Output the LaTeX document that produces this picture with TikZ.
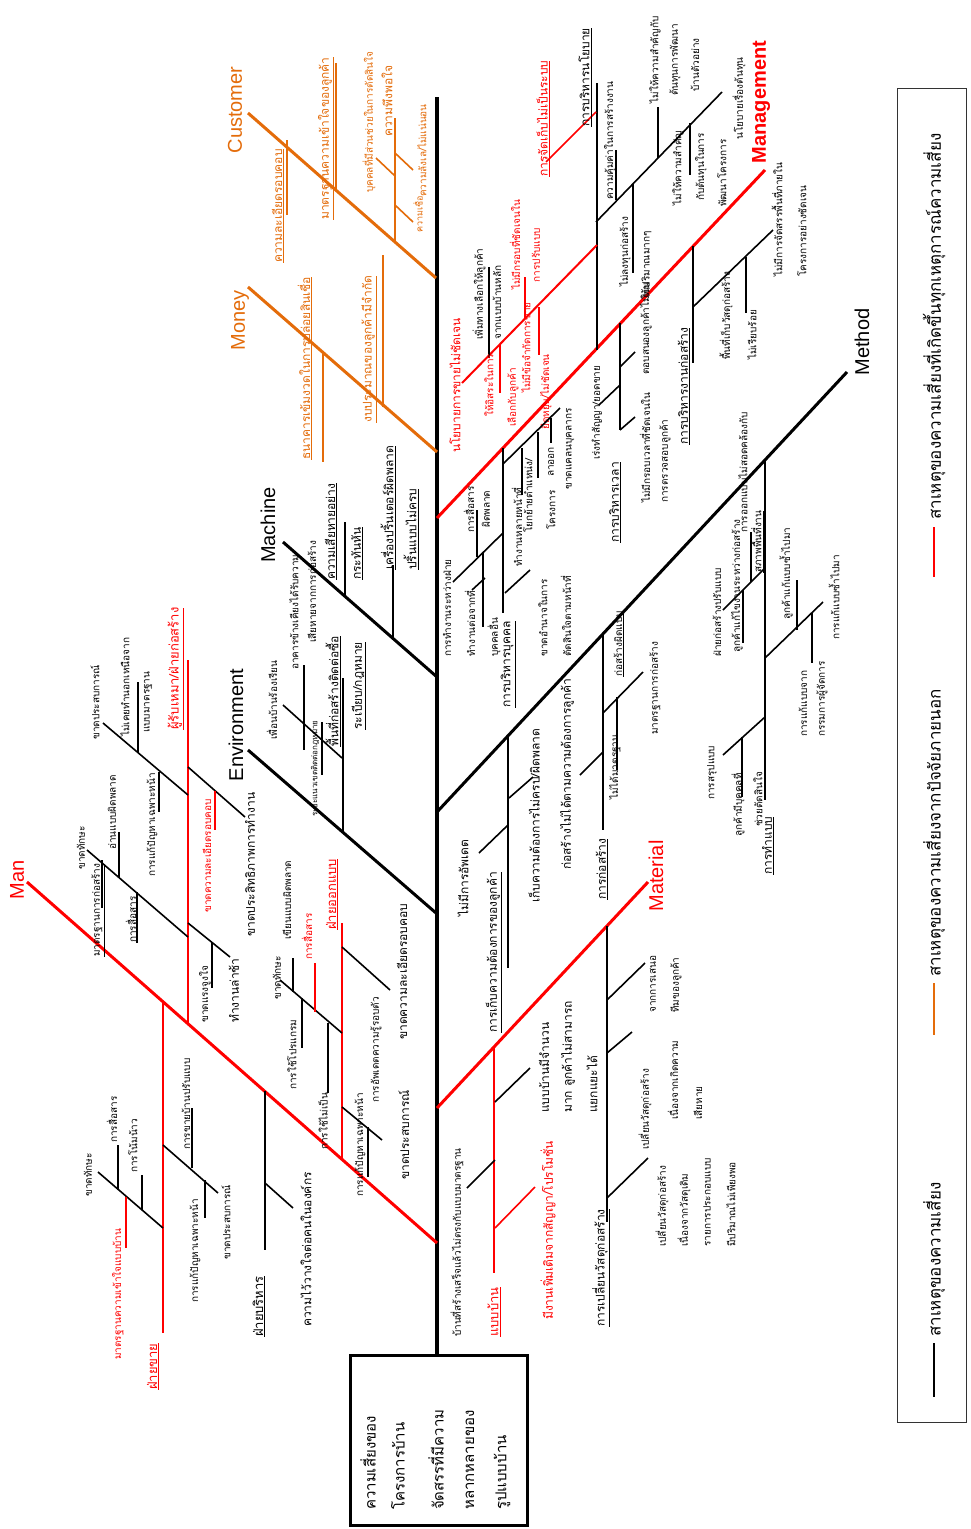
\documentclass[tikz,border=0pt]{standalone}
\usepackage{fontspec}
\setmainfont{Liberation Sans}
\newfontfamily\thai[Script=Thai]{Loma}
\definecolor{brO}{RGB}{228,108,10}
\definecolor{brR}{RGB}{255,0,0}
\tikzset{
  spine/.style={line width=3.5pt,black},
  mainK/.style={line width=3pt,black},
  mainR/.style={line width=3pt,brR},
  mainO/.style={line width=3pt,brO},
  subK/.style={line width=2pt,black},
  subR/.style={line width=2pt,brR},
  subO/.style={line width=2pt,brO},
  tikK/.style={line width=1.6pt,black},
  tikR/.style={line width=1.6pt,brR},
  tikO/.style={line width=1.6pt,brO},
  lb/.style={rotate=90,inner sep=0pt,anchor=west,font=\thai\fontsize{12}{14}\selectfont},
  ls/.style={lb,font=\thai\fontsize{10}{12}\selectfont},
  ll/.style={lb,font=\thai\fontsize{13}{15}\selectfont},
  cat/.style={rotate=90,inner sep=0pt,font=\fontsize{20}{24}\selectfont},
  boxtxt/.style={lb,font=\thai\fontsize{15}{18}\selectfont},
  legtxt/.style={lb,font=\thai\fontsize{17}{20}\selectfont},
}
\begin{document}
\begin{tikzpicture}[x=1pt,y=-1pt]
\useasboundingbox (0,0) rectangle (971,1529);
\fill[white] (0,0) rectangle (971,1529);

% ---------- head and spine ----------
\node[draw,line width=3pt,minimum width=177pt,minimum height=170pt,inner sep=0pt] (head) at (438.5,1440) {};
\node[boxtxt] (h1) at (368,1510) {ความเสี่ยงของ};
\node[boxtxt] (h2) at (398,1510) {โครงการบ้าน};
\node[boxtxt] (h3) at (436,1510) {จัดสรรที่มีความ};
\node[boxtxt] (h4) at (470,1510) {หลากหลายของ};
\node[boxtxt] (h5) at (502,1510) {รูปแบบบ้าน};
\coordinate (sp0) at (437,97);
\draw[spine] (sp0) -- (sp0 |- head.north);

% ---------- legend ----------
\draw[line width=1pt,black!80] (897,88) rectangle (966,1422);
\coordinate (lg1a) at (934,527); \coordinate (lg1b) at (934,577);
\draw[line width=1.5pt,brR] (lg1a) -- (lg1b);
\node[legtxt] (lg1) at (934,520) {สาเหตุของความเสี่ยงที่เกิดขึ้นทุกเหตุการณ์ความเสี่ยง};
\coordinate (lg2a) at (934,983); \coordinate (lg2b) at (934,1035);
\draw[line width=1.5pt,brO] (lg2a) -- (lg2b);
\node[legtxt] (lg2) at (934,977) {สาเหตุของความเสี่ยงจากปัจจัยภายนอก};
\coordinate (lg3a) at (934,1343); \coordinate (lg3b) at (934,1397);
\draw[line width=1.5pt,black] (lg3a) -- (lg3b);
\node[legtxt] (lg3) at (934,1337) {สาเหตุของความเสี่ยง};

% ---------- main branches ----------
\coordinate (cuA) at (248,113); \coordinate (cuB) at (436,278);
\coordinate (moA) at (248,287); \coordinate (moB) at (437,452);
\coordinate (maA) at (283,542); \coordinate (maB) at (437,677);
\coordinate (enA) at (248,750); \coordinate (enB) at (436,913);
\coordinate (mnA) at (27,882);  \coordinate (mnB) at (437,1243);
\coordinate (mgA) at (437,518); \coordinate (mgB) at (765,170);
\coordinate (meA) at (437,812); \coordinate (meB) at (847,372);
\coordinate (mtA) at (437,1108); \coordinate (mtB) at (648,882);
\draw[mainO] (cuA) -- (cuB);
\draw[mainO] (moA) -- (moB);
\draw[mainK] (maA) -- (maB);
\draw[mainK] (enA) -- (enB);
\draw[mainR] (mnA) -- (mnB);
\draw[mainR] (mgA) -- (mgB);
\draw[mainK] (meA) -- (meB);
\draw[mainR] (mtA) -- (mtB);

\node[cat,brO] (tCu) at (235,110) {Customer};
\node[cat,brO] (tMo) at (240,320) {Money};
\node[cat] (tMa) at (268,525) {Machine};
\node[cat] (tEn) at (236,725) {Environment};
\node[cat,brR] (tMn) at (17,880) {Man};
\node[cat,brR,font=\bfseries\fontsize{20}{24}\selectfont] (tMg) at (761,102) {Management};
\node[cat] (tMe) at (862,342) {Method};
\node[cat,brR] (tMt) at (656,876) {Material};

% ---------- Customer ----------
\coordinate (c1a) at (287,140); \coordinate (c1b) at (287,215); \draw[subO] (c1a) -- (c1b);
\coordinate (c2a) at (336,63);  \coordinate (c2b) at (336,190); \draw[subO] (c2a) -- (c2b);
\coordinate (c3a) at (395,118); \coordinate (c3b) at (395,242); \draw[subO] (c3a) -- (c3b);
\coordinate (c4a) at (376,158); \coordinate (c4b) at (395,176); \draw[tikO] (c4a) -- (c4b);
\coordinate (c5a) at (395,153); \coordinate (c5b) at (413,170); \draw[tikO] (c5a) -- (c5b);
\coordinate (c6a) at (395,205); \coordinate (c6b) at (413,222); \draw[tikO] (c6a) -- (c6b);
\node[lb,brO] (cl1) at (278,263) {\underline{ความละเอียดรอบคอบ}};
\node[lb,brO] (cl2) at (326,220) {\underline{มาตรฐานความเข้าใจของลูกค้า}};
\node[lb,brO] (cl3) at (387,137) {ความพึงพอใจ};
\node[ls,brO] (cl4) at (369,193) {บุคคลที่มีส่วนช่วยในการตัดสินใจ};
\node[ls,brO] (cl5) at (422,197) {ความลังเล/ไม่แน่นอน};
\node[ls,brO,font=\thai\fontsize{9}{11}\selectfont] (cl6) at (418,233) {ความเชื่อ};

% ---------- Money ----------
\coordinate (m1a) at (323,352); \coordinate (m1b) at (323,462); \draw[subO] (m1a) -- (m1b);
\coordinate (m2a) at (383,255); \coordinate (m2b) at (383,407); \draw[subO] (m2a) -- (m2b);
\node[lb,brO] (ml1) at (305,460) {\underline{ธนาคารเข้มงวดในการปล่อยสินเชื่อ}};
\node[lb,brO] (ml2) at (369,423) {\underline{งบประมาณของลูกค้ามีจำกัด}};

% ---------- Machine ----------
\coordinate (h1a) at (345,522); \coordinate (h1b) at (345,596); \draw[subK] (h1a) -- (h1b);
\coordinate (h2a) at (393,565); \coordinate (h2b) at (393,638); \draw[subK] (h2a) -- (h2b);
\node[lb] (hl1) at (331,580) {\underline{ความเสียหายอย่าง}};
\node[lb] (hl2) at (357,580) {\underline{กระทันหัน}};
\node[lb] (hl3) at (388,570) {\underline{เครื่องปริ้นเตอร์ผิดพลาด}};
\node[lb] (hl4) at (411,570) {\underline{ปริ้นแบบไม่ครบ}};

% ---------- Environment ----------
\coordinate (e1a) at (343,678); \coordinate (e1b) at (343,832); \draw[subK] (e1a) -- (e1b);
\coordinate (e2a) at (283,705); \coordinate (e2b) at (342,758); \draw[tikK] (e2a) -- (e2b);
\coordinate (e3a) at (304,665); \coordinate (e3b) at (304,750); \draw[tikK] (e3a) -- (e3b);
\coordinate (e4a) at (322,722); \coordinate (e4b) at (322,775); \draw[tikK] (e4a) -- (e4b);
\node[lb] (el1) at (333,747) {\underline{พื้นที่ก่อสร้างติดต่อซื้อ}};
\node[lb] (el2) at (359,730) {\underline{ระเบียบ/กฎหมาย}};
\node[ls] (el3) at (272,740) {เพื่อนบ้านร้องเรียน};
\node[ls] (el4) at (294,670) {อาคารข้างเคียงได้รับความ};
\node[ls] (el5) at (312,643) {เสียหายจากการก่อสร้าง};
\node[ls,font=\thai\fontsize{8}{9}\selectfont] (el6) at (315,817) {ระยะแนวเขตติดต่อกฎหมาย};

% ---------- Man ----------
\coordinate (r1a) at (188,660); \coordinate (r1b) at (188,1024); \draw[subR] (r1a) -- (r1b);
\coordinate (r2a) at (103,723); \coordinate (r2b) at (188,795); \draw[tikK] (r2a) -- (r2b);
\coordinate (r3a) at (138,682); \coordinate (r3b) at (138,753); \draw[tikK] (r3a) -- (r3b);
\coordinate (r4a) at (159,772); \coordinate (r4b) at (159,812); \draw[tikK] (r4a) -- (r4b);
\coordinate (r5a) at (188,767); \coordinate (r5b) at (245,817); \draw[tikK] (r5a) -- (r5b);
\coordinate (r6a) at (215,791); \coordinate (r6b) at (215,830); \draw[tikR] (r6a) -- (r6b);
\coordinate (r7a) at (188,923); \coordinate (r7b) at (230,957); \draw[tikK] (r7a) -- (r7b);
\coordinate (r8a) at (212,942); \coordinate (r8b) at (212,988); \draw[tikK] (r8a) -- (r8b);
\coordinate (r9a) at (87,850);  \coordinate (r9b) at (188,937); \draw[tikK] (r9a) -- (r9b);
\coordinate (r10a) at (102,860); \coordinate (r10b) at (102,908); \draw[tikK] (r10a) -- (r10b);
\coordinate (r11a) at (119,832); \coordinate (r11b) at (119,877); \draw[tikK] (r11a) -- (r11b);
\coordinate (r12a) at (137,892); \coordinate (r12b) at (137,943); \draw[tikK] (r12a) -- (r12b);
\node[ll,brR] (rl1) at (176,730) {\underline{ผู้รับเหมา/ฝ่ายก่อสร้าง}};
\node[ls] (rl2) at (95,740) {ขาดประสบการณ์};
\node[ls] (rl3) at (125,737) {ไม่เคยทำนอกเหนือจาก};
\node[ls] (rl4) at (148,733) {แบบมาตรฐาน};
\node[ls] (rl5) at (152,877) {การแก้ปัญหาเฉพาะหน้า};
\node[ls,brR] (rl6) at (207,913) {ขาดความละเอียดรอบคอบ};
\node[lb] (rl7) at (250,937) {ขาดประสิทธิภาพการทำงาน};
\node[ls] (rl8) at (205,1023) {ขาดแรงจูงใจ};
\node[lb] (rl9) at (234,1023) {ทำงานล่าช้า};
\node[ls] (rl10) at (81,870) {ขาดทักษะ};
\node[ls] (rl11) at (98,957) {\underline{มาตรฐานการก่อสร้าง}};
\node[ls] (rl12) at (112,850) {อ่านแบบผิดพลาด};
\node[ls] (rl13) at (132,943) {\underline{การสื่อสาร}};

\coordinate (b1a) at (265,1091); \coordinate (b1b) at (265,1250); \draw[subK] (b1a) -- (b1b);
\coordinate (b2a) at (265,1183); \coordinate (b2b) at (293,1208); \draw[tikK] (b2a) -- (b2b);
\node[ll] (bl1) at (259,1337) {\underline{ฝ่ายบริหาร}};
\node[lb] (bl2) at (306,1327) {ความไว้วางใจต่อคนในองค์กร};

\coordinate (s1a) at (163,1003); \coordinate (s1b) at (163,1333); \draw[subR] (s1a) -- (s1b);
\coordinate (s2a) at (98,1172);  \coordinate (s2b) at (163,1228); \draw[tikK] (s2a) -- (s2b);
\coordinate (s3a) at (118,1145); \coordinate (s3b) at (118,1190); \draw[tikK] (s3a) -- (s3b);
\coordinate (s4a) at (142,1175); \coordinate (s4b) at (142,1210); \draw[tikK] (s4a) -- (s4b);
\coordinate (s5a) at (126,1197); \coordinate (s5b) at (126,1248); \draw[tikR] (s5a) -- (s5b);
\coordinate (s6a) at (163,1145); \coordinate (s6b) at (218,1193); \draw[tikK] (s6a) -- (s6b);
\coordinate (s7a) at (192,1108); \coordinate (s7b) at (192,1168); \draw[tikK] (s7a) -- (s7b);
\coordinate (s8a) at (205,1180); \coordinate (s8b) at (205,1218); \draw[tikK] (s8a) -- (s8b);
\node[ll,brR] (sl1) at (153,1390) {\underline{ฝ่ายขาย}};
\node[ls] (sl2) at (88,1197) {ขาดทักษะ};
\node[ls] (sl3) at (112,1143) {การสื่อสาร};
\node[ls] (sl4) at (133,1173) {การโน้มน้าว};
\node[ls,brR] (sl5) at (118,1360) {มาตรฐานความเข้าใจแบบบ้าน};
\node[ls] (sl6) at (226,1260) {ขาดประสบการณ์};
\node[ls] (sl7) at (186,1150) {การขายบ้านปรับแบบ};
\node[ls] (sl8) at (195,1303) {การแก้ปัญหาเฉพาะหน้า};

\coordinate (d1a) at (342,923);  \coordinate (d1b) at (342,1159); \draw[subR] (d1a) -- (d1b);
\coordinate (d2a) at (342,947);  \coordinate (d2b) at (390,990);  \draw[tikK] (d2a) -- (d2b);
\coordinate (d3a) at (280,980);  \coordinate (d3b) at (342,1033); \draw[tikK] (d3a) -- (d3b);
\coordinate (d4a) at (293,958);  \coordinate (d4b) at (293,992);  \draw[tikK] (d4a) -- (d4b);
\coordinate (d5a) at (315,963);  \coordinate (d5b) at (315,1012); \draw[tikR] (d5a) -- (d5b);
\coordinate (d6a) at (302,998);  \coordinate (d6b) at (302,1048); \draw[tikK] (d6a) -- (d6b);
\coordinate (d7a) at (328,1023); \coordinate (d7b) at (328,1093); \draw[tikK] (d7a) -- (d7b);
\coordinate (d8a) at (342,1107); \coordinate (d8b) at (382,1140); \draw[tikK] (d8a) -- (d8b);
\coordinate (d9a) at (368,1127); \coordinate (d9b) at (368,1177); \draw[tikK] (d9a) -- (d9b);
\node[ll,brR] (dl1) at (332,930) {\underline{ฝ่ายออกแบบ}};
\node[lb] (dl2) at (402,1040) {ขาดความละเอียดรอบคอบ};
\node[ls] (dl3) at (277,1000) {ขาดทักษะ};
\node[ls] (dl4) at (287,940) {เขียนแบบผิดพลาด};
\node[ls,brR] (dl5) at (307,960) {การสื่อสาร};
\node[ls] (dl6) at (292,1090) {การใช้โปรแกรม};
\node[ls] (dl7) at (323,1150) {การใช้ไม่เป็น};
\node[ls] (dl8) at (376,1103) {การอัพเดตความรู้รอบตัว};
\node[ls] (dl9) at (360,1197) {การแก้ปัญหาเฉพาะหน้า};
\node[lb] (dl10) at (404,1180) {ขาดประสบการณ์};

% ---------- Management ----------
\coordinate (g1a) at (597,83);  \coordinate (g1b) at (597,350); \draw[subK] (g1a) -- (g1b);
\coordinate (g2a) at (546,162); \coordinate (g2b) at (596,112); \draw[tikR] (g2a) -- (g2b);
\coordinate (g3a) at (596,222); \coordinate (g3b) at (722,92);  \draw[tikK] (g3a) -- (g3b);
\coordinate (g4a) at (616,150); \coordinate (g4b) at (616,200); \draw[tikK] (g4a) -- (g4b);
\coordinate (g5a) at (633,184); \coordinate (g5b) at (633,273); \draw[tikK] (g5a) -- (g5b);
\coordinate (g6a) at (658,107); \coordinate (g6b) at (658,158); \draw[tikK] (g6a) -- (g6b);
\coordinate (g7a) at (690,123); \coordinate (g7b) at (690,175); \draw[tikK] (g7a) -- (g7b);
\coordinate (g8a) at (462,383); \coordinate (g8b) at (597,245); \draw[subR] (g8a) -- (g8b);
\coordinate (g9a) at (489,267); \coordinate (g9b) at (489,358); \draw[tikK] (g9a) -- (g9b);
\coordinate (g10a) at (525,277); \coordinate (g10b) at (525,318); \draw[tikR] (g10a) -- (g10b);
\coordinate (g11a) at (500,345); \coordinate (g11b) at (500,393); \draw[tikR] (g11a) -- (g11b);
\coordinate (g12a) at (539,307); \coordinate (g12b) at (539,355); \draw[tikR] (g12a) -- (g12b);
\node[lb] (gl1) at (585,127) {\underline{การบริหารนโยบาย}};
\node[lb,brR] (gl2) at (543,177) {\underline{การจัดเก็บไม่เป็นระบบ}};
\node[ls] (gl3) at (739,140) {นโยบายเรื่องต้นทุน};
\node[ls] (gl4) at (610,200) {ความคุ้มค่าในการสร้างงาน};
\node[ls] (gl5) at (625,287) {ไม่ลงทุนก่อสร้าง};
\node[ls] (gl6) at (646,300) {ในปริมาณมากๆ};
\node[ls,anchor=center] (gl7) at (655,60) {ไม่ให้ความสำคัญกับ};
\node[ls,anchor=center] (gl8) at (675,60) {ต้นทุนการพัฒนา};
\node[ls,anchor=center] (gl9) at (695,65) {บ้านตัวอย่าง};
\node[ls,anchor=center] (gl10) at (678,168) {ไม่ให้ความสำคัญ};
\node[ls,anchor=center] (gl11) at (701,167) {กับต้นทุนในการ};
\node[ls,anchor=center] (gl12) at (722,173) {พัฒนาโครงการ};
\node[lb,brR] (gl13) at (455,453) {นโยบายการขายไม่ชัดเจน};
\node[ls] (gl14) at (479,340) {เพิ่มทางเลือกให้ลูกค้า};
\node[ls] (gl15) at (497,340) {จากแบบบ้านหลัก};
\node[ls,brR,anchor=center] (gl16) at (515,245) {ไม่มีกรอบที่ชัดเจนใน};
\node[ls,brR,anchor=center] (gl17) at (536,255) {การปรับแบบ};
\node[ls,brR] (gl18) at (489,417) {ให้อิสระในการ};
\node[ls,brR] (gl19) at (513,427) {เลือกกับลูกค้า};
\node[ls,brR] (gl20) at (526,393) {ไม่มีข้อจำกัดการขาย};
\node[ls,brR] (gl21) at (546,430) {ยืดหยุ่น/ไม่ชัดเจน};

\coordinate (k1a) at (693,246); \coordinate (k1b) at (693,363); \draw[subK] (k1a) -- (k1b);
\coordinate (k2a) at (693,307); \coordinate (k2b) at (773,230); \draw[tikK] (k2a) -- (k2b);
\coordinate (k3a) at (746,257); \coordinate (k3b) at (746,313); \draw[tikK] (k3a) -- (k3b);
\node[lb] (kl1) at (684,445) {\underline{การบริหารงานก่อสร้าง}};
\node[ls] (kl2) at (777,277) {ไม่มีการจัดสรรพื้นที่ภายใน};
\node[ls] (kl3) at (802,277) {โครงการอย่างชัดเจน};
\node[ls] (kl4) at (726,360) {พื้นที่เก็บวัสดุก่อสร้าง};
\node[ls] (kl5) at (752,360) {ไม่เรียบร้อย};

\coordinate (v1a) at (620,323); \coordinate (v1b) at (620,430); \draw[subK] (v1a) -- (v1b);
\coordinate (v2a) at (620,367); \coordinate (v2b) at (635,352); \draw[tikK] (v2a) -- (v2b);
\coordinate (v3a) at (620,430); \coordinate (v3b) at (635,417); \draw[tikK] (v3a) -- (v3b);
\coordinate (v4a) at (599,405); \coordinate (v4b) at (620,385); \draw[tikK] (v4a) -- (v4b);
\node[lb] (vl1) at (615,543) {\underline{การบริหารเวลา}};
\node[ls] (vl2) at (646,375) {ตอบสนองลูกค้าไม่ทัน};
\node[ls] (vl3) at (645,503) {ไม่มีกรอบเวลาที่ชัดเจนใน};
\node[ls] (vl4) at (665,503) {การตรวจสอบลูกค้า};
\node[ls] (vl5) at (597,460) {เร่งทำสัญญา/ยอดขาย};

\coordinate (p1a) at (503,448); \coordinate (p1b) at (503,613); \draw[subK] (p1a) -- (p1b);
\coordinate (p2a) at (503,464); \coordinate (p2b) at (560,408); \draw[tikK] (p2a) -- (p2b);
\coordinate (p3a) at (522,448); \coordinate (p3b) at (522,495); \draw[tikK] (p3a) -- (p3b);
\coordinate (p4a) at (538,432); \coordinate (p4b) at (538,478); \draw[tikK] (p4a) -- (p4b);
\coordinate (p5a) at (551,418); \coordinate (p5b) at (551,443); \draw[tikK] (p5a) -- (p5b);
\coordinate (p6a) at (505,593); \coordinate (p6b) at (530,570); \draw[tikK] (p6a) -- (p6b);
\coordinate (p7a) at (453,582); \coordinate (p7b) at (503,533); \draw[tikK] (p7a) -- (p7b);
\coordinate (p8a) at (477,510); \coordinate (p8b) at (477,557); \draw[tikK] (p8a) -- (p8b);
\coordinate (p9a) at (483,553); \coordinate (p9b) at (483,627); \draw[tikK] (p9a) -- (p9b);
\coordinate (p10a) at (472,590); \coordinate (p10b) at (485,578); \draw[tikK] (p10a) -- (p10b);
\node[lb] (pl1) at (508,708) {\underline{การบริหารบุคคล}};
\node[ls] (pl2) at (570,490) {ขาดแคลนบุคลากร};
\node[ls] (pl3) at (517,567) {ทำงานหลายหน้าที่};
\node[ls] (pl4) at (528,533) {โยกย้ายตำแหน่ง/};
\node[ls] (pl5) at (551,530) {โครงการ};
\node[ls] (pl6) at (551,477) {ลาออก};
\node[ls] (pl7) at (543,657) {ขาดอำนาจในการ};
\node[ls] (pl8) at (566,657) {ตัดสินใจตามหน้าที่};
\node[ls] (pl9) at (447,657) {การทำงานระหว่างฝ่าย};
\node[ls] (pl10) at (469,533) {การสื่อสาร};
\node[ls] (pl11) at (486,528) {ผิดพลาด};
\node[ls] (pl12) at (470,657) {ทำงานต่อจากที่};
\node[ls] (pl13) at (494,657) {บุคคลอื่น};

% ---------- Method ----------
\coordinate (w1a) at (765,460); \coordinate (w1b) at (765,800); \draw[subK] (w1a) -- (w1b);
\coordinate (w2a) at (723,610); \coordinate (w2b) at (765,568); \draw[tikK] (w2a) -- (w2b);
\coordinate (w3a) at (743,590); \coordinate (w3b) at (743,643); \draw[tikK] (w3a) -- (w3b);
\coordinate (w4a) at (751,532); \coordinate (w4b) at (751,582); \draw[tikK] (w4a) -- (w4b);
\coordinate (w5a) at (765,658); \coordinate (w5b) at (823,602); \draw[tikK] (w5a) -- (w5b);
\coordinate (w6a) at (797,580); \coordinate (w6b) at (797,630); \draw[tikK] (w6a) -- (w6b);
\coordinate (w7a) at (812,613); \coordinate (w7b) at (812,663); \draw[tikK] (w7a) -- (w7b);
\coordinate (w8a) at (723,755); \coordinate (w8b) at (765,717); \draw[tikK] (w8a) -- (w8b);
\coordinate (w9a) at (742,737); \coordinate (w9b) at (742,797); \draw[tikK] (w9a) -- (w9b);
\node[lb] (wl1) at (768,875) {\underline{การทำแบบ}};
\node[ls] (wl2) at (717,657) {ฝ่ายก่อสร้างปรับแบบ};
\node[ls] (wl3) at (737,653) {ลูกค้าแก้ไขงานระหว่างก่อสร้าง};
\node[ls] (wl4) at (743,533) {การออกแบบไม่สอดคล้องกับ};
\node[ls] (wl5) at (757,573) {\underline{สภาพพื้นที่งาน}};
\node[ls] (wl6) at (786,620) {ลูกค้าแก้แบบซ้ำไปมา};
\node[ls] (wl7) at (834,640) {การแก้แบบซ้ำไปมา};
\node[ls] (wl8) at (803,737) {การแก้แบบจาก};
\node[ls] (wl9) at (822,737) {กรรมการผู้จัดการ};
\node[ls] (wl10) at (712,800) {การสรุปแบบ};
\node[ls] (wl11) at (738,837) {ลูกค้ามีบุคคลที่};
\node[ls] (wl12) at (758,827) {ช่วยตัดสินใจ};

\coordinate (q1a) at (603,633); \coordinate (q1b) at (603,830); \draw[subK] (q1a) -- (q1b);
\coordinate (q2a) at (603,713); \coordinate (q2b) at (643,672); \draw[tikK] (q2a) -- (q2b);
\coordinate (q3a) at (617,697); \coordinate (q3b) at (617,770); \draw[tikK] (q3a) -- (q3b);
\coordinate (q4a) at (580,775); \coordinate (q4b) at (603,752); \draw[tikK] (q4a) -- (q4b);
\node[lb] (ql1) at (602,900) {\underline{การก่อสร้าง}};
\node[ls] (ql2) at (619,677) {\underline{ก่อสร้างผิดแบบ}};
\node[ls] (ql3) at (655,735) {มาตรฐานการก่อสร้าง};
\node[ls] (ql4) at (615,800) {ไม่ได้มาตรฐาน};

\coordinate (f1a) at (508,736); \coordinate (f1b) at (508,968); \draw[subK] (f1a) -- (f1b);
\coordinate (f2a) at (479,853); \coordinate (f2b) at (508,825); \draw[tikK] (f2a) -- (f2b);
\coordinate (f3a) at (509,798); \coordinate (f3b) at (533,777); \draw[tikK] (f3a) -- (f3b);
\node[lb] (fl1) at (494,1033) {\underline{การเก็บความต้องการของลูกค้า}};
\node[lb] (fl2) at (463,917) {ไม่มีการอัพเดต};
\node[lb] (fl3) at (534,903) {เก็บความต้องการไม่ครบ/ผิดพลาด};
\node[lb] (fl4) at (567,870) {ก่อสร้างไม่ได้ตามความต้องการลูกค้า};

% ---------- Material ----------
\coordinate (a1a) at (494,1047); \coordinate (a1b) at (494,1273); \draw[subR] (a1a) -- (a1b);
\coordinate (a2a) at (495,1102); \coordinate (a2b) at (530,1068); \draw[tikK] (a2a) -- (a2b);
\coordinate (a3a) at (467,1188); \coordinate (a3b) at (495,1160); \draw[tikK] (a3a) -- (a3b);
\coordinate (a4a) at (495,1228); \coordinate (a4b) at (535,1187); \draw[tikR] (a4a) -- (a4b);
\node[ll,brR] (al1) at (494,1337) {\underline{แบบบ้าน}};
\node[lb] (al2) at (544,1113) {แบบบ้านมีจำนวน};
\node[lb] (al3) at (568,1113) {มาก ลูกค้าไม่สามารถ};
\node[lb] (al4) at (592,1113) {แยกแยะได้};
\node[ls] (al5) at (457,1337) {บ้านที่สร้างเสร็จแล้วไม่ตรงกับแบบมาตรฐาน};
\node[lb,brR] (al6) at (548,1320) {มีงานเพิ่มเติมจากสัญญา/โปรโมชั่น};

\coordinate (n1a) at (607,926);  \coordinate (n1b) at (607,1222); \draw[subK] (n1a) -- (n1b);
\coordinate (n2a) at (607,1000); \coordinate (n2b) at (645,963);  \draw[tikK] (n2a) -- (n2b);
\coordinate (n3a) at (607,1053); \coordinate (n3b) at (632,1032); \draw[tikK] (n3a) -- (n3b);
\coordinate (n4a) at (607,1198); \coordinate (n4b) at (648,1158); \draw[tikK] (n4a) -- (n4b);
\node[lb] (nl1) at (601,1327) {\underline{การเปลี่ยนวัสดุก่อสร้าง}};
\node[ls] (nl2) at (653,1013) {จากการเสนอ};
\node[ls] (nl3) at (676,1013) {ทีมของลูกค้า};
\node[ls] (nl4) at (645,1150) {เปลี่ยนวัสดุก่อสร้าง};
\node[ls] (nl5) at (673,1120) {เนื่องจากเกิดความ};
\node[ls] (nl6) at (698,1120) {เสียหาย};
\node[ls] (nl7) at (662,1247) {เปลี่ยนวัสดุก่อสร้าง};
\node[ls] (nl8) at (684,1247) {เนื่องจากวัสดุเดิม};
\node[ls] (nl9) at (707,1247) {รายการประกอบแบบ};
\node[ls] (nl10) at (731,1247) {มีปริมาณไม่เพียงพอ};
\end{tikzpicture}
\end{document}
